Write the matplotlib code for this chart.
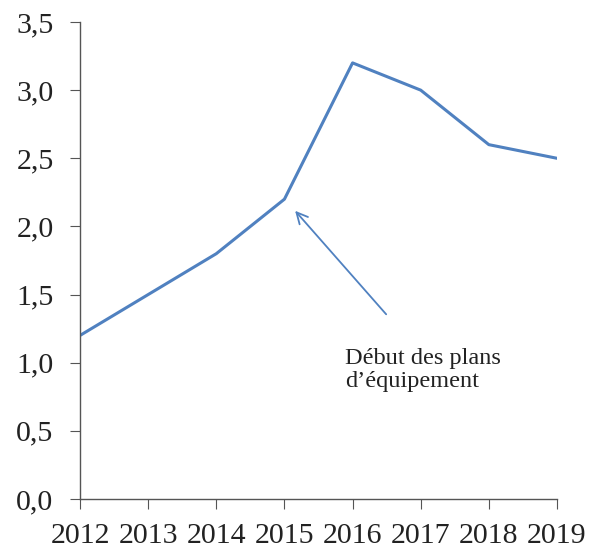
import matplotlib
matplotlib.use("Agg")
import matplotlib.pyplot as plt

years = [2012, 2013, 2014, 2015, 2016, 2017, 2018, 2019]
values = [1.2, 1.5, 1.8, 2.2, 3.2, 3.0, 2.6, 2.5]
yticks = [0.0, 0.5, 1.0, 1.5, 2.0, 2.5, 3.0, 3.5]
ytick_labels = ["0,0", "0,5", "1,0", "1,5", "2,0", "2,5", "3,0", "3,5"]
annot_text = "Début des plans\nd\u2019équipement"

plt.rcParams['font.family'] = ['Liberation Serif', 'DejaVu Serif']

fig = plt.figure(figsize=(5.89, 5.49), dpi=100)
ax = fig.add_axes([80/589, 1-499/549, 477/589, 477/549])

color = "#5081C0"
ax.plot(years, values, color=color, linewidth=2.2, solid_joinstyle='round')

ax.set_xlim(2012, 2019)
ax.set_ylim(0, 3.5)
ax.set_xticks(years)
ax.set_xticklabels([str(y) for y in years])
ax.set_yticks(yticks)
ax.set_yticklabels(ytick_labels)

for s in ["top", "right"]:
    ax.spines[s].set_visible(False)
for s in ["left", "bottom"]:
    ax.spines[s].set_color("#555555")
    ax.spines[s].set_linewidth(1.0)

ax.tick_params(axis='both', direction='out', colors="#555555", labelcolor="#222222", labelsize=21.5)
ax.tick_params(axis='y', length=7, pad=12)
ax.tick_params(axis='x', length=7, pad=10)

ax.annotate("", xy=(2015.13, 2.13), xytext=(2016.52, 1.34),
            arrowprops=dict(arrowstyle="->", color=color, lw=1.3, mutation_scale=20))
ax.text(2015.89, 1.11, annot_text, fontsize=17.5, color="#222222", va="top", ha="left",
        linespacing=1.15)

fig.savefig("out.png", dpi=100)
